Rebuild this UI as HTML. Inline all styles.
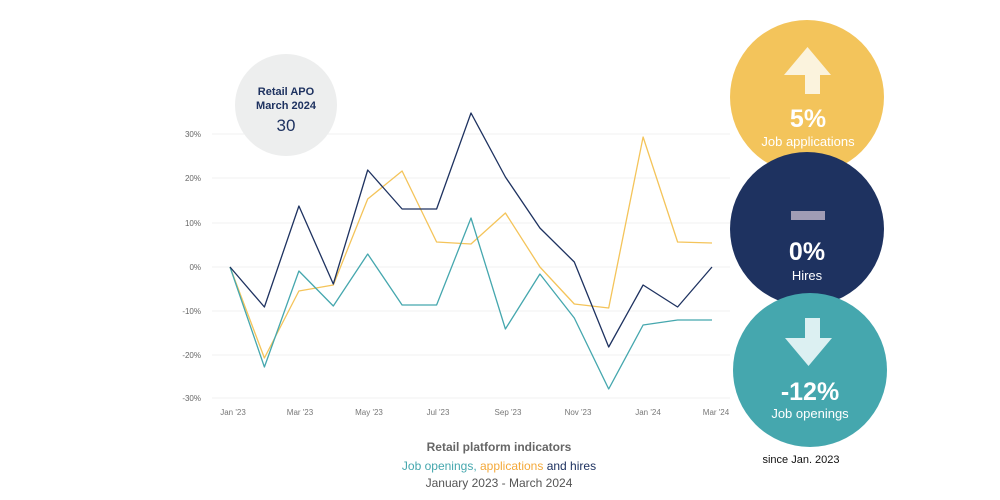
<!DOCTYPE html>
<html><head><meta charset="utf-8"><style>
html,body{margin:0;padding:0;background:#fff;}
svg{display:block;font-family:"Liberation Sans",sans-serif;}
</style></head><body>
<svg width="1000" height="500" viewBox="0 0 1000 500">
<g stroke="#f0f0f0" stroke-width="1">
<line x1="212" y1="134" x2="730" y2="134"/><line x1="212" y1="178" x2="730" y2="178"/>
<line x1="212" y1="223" x2="730" y2="223"/><line x1="212" y1="267" x2="730" y2="267"/>
<line x1="212" y1="311" x2="730" y2="311"/><line x1="212" y1="355" x2="730" y2="355"/>
<line x1="212" y1="398" x2="730" y2="398"/>
</g>
<g font-size="8" fill="#666" text-anchor="end">
<text x="201" y="137">30%</text><text x="201" y="181">20%</text><text x="201" y="226">10%</text>
<text x="201" y="270">0%</text><text x="201" y="314">-10%</text><text x="201" y="358">-20%</text>
<text x="201" y="401">-30%</text>
</g>
<g font-size="8" fill="#777" text-anchor="middle">
<text x="233" y="415">Jan '23</text><text x="300" y="415">Mar '23</text><text x="369" y="415">May '23</text>
<text x="438" y="415">Jul '23</text><text x="508" y="415">Sep '23</text><text x="578" y="415">Nov '23</text>
<text x="648" y="415">Jan '24</text><text x="716" y="415">Mar '24</text>
</g>
<circle cx="286" cy="105" r="51" fill="#edeeee"/>
<text x="286" y="95" font-size="11" font-weight="bold" fill="#1e3260" text-anchor="middle">Retail APO</text>
<text x="286" y="109" font-size="11" font-weight="bold" fill="#1e3260" text-anchor="middle">March 2024</text>
<text x="286" y="131" font-size="17" fill="#1e3260" text-anchor="middle">30</text>
<g fill="none" stroke-width="1.3" stroke-linejoin="round">
<polyline stroke="#f4c45a" points="230,267 264.4,358 298.9,291 333.3,285 367.7,199 402.1,171 436.6,242 471,244 505.4,213 539.9,267 574.3,304 608.7,308 643.1,137 677.6,242 712,243"/>
<polyline stroke="#45a7ae" points="230,267 264.4,367 298.9,271 333.3,306 367.7,254 402.1,305 436.6,305 471,218 505.4,329 539.9,274 574.3,318 608.7,389 643.1,325 677.6,320 712,320"/>
<polyline stroke="#1e3260" points="230,267 264.4,307 298.9,206 333.3,284 367.7,170 402.1,209 436.6,209 471,113 505.4,177 539.9,228 574.3,262 608.7,347 643.1,285 677.6,307 712,267"/>
</g>
<text x="499" y="451" font-size="12" font-weight="bold" fill="#666" text-anchor="middle">Retail platform indicators</text>
<text x="499" y="470" font-size="12" text-anchor="middle"><tspan fill="#45a7ae">Job openings, </tspan><tspan fill="#f4a93a">applications </tspan><tspan fill="#1e3260">and hires</tspan></text>
<text x="499" y="487" font-size="12" fill="#555" text-anchor="middle">January 2023 - March 2024</text>
<circle cx="807" cy="97" r="77" fill="#f3c45b"/>
<circle cx="807" cy="229" r="77" fill="#1e3260"/>
<circle cx="810" cy="370" r="77" fill="#45a7ae"/>
<polygon points="807.5,47 831,75 820,75 820,94 805,94 805,75 784,75" fill="#fbf3dd"/>
<rect x="791" y="211" width="34" height="9" fill="#a09cb5"/>
<polygon points="805,318 820,318 820,338 832,338 808.5,366 785,338 805,338" fill="#dcf0f2"/>
<g fill="#fff" text-anchor="middle">
<text x="808" y="127" font-size="25" font-weight="bold">5%</text>
<text x="808" y="146" font-size="13">Job applications</text>
<text x="807" y="260" font-size="25" font-weight="bold">0%</text>
<text x="807" y="280" font-size="13">Hires</text>
<text x="810" y="400" font-size="25" font-weight="bold">-12%</text>
<text x="810" y="418" font-size="13">Job openings</text>
</g>
<text x="801" y="463" font-size="11" fill="#111" text-anchor="middle">since Jan. 2023</text>
</svg>
</body></html>
